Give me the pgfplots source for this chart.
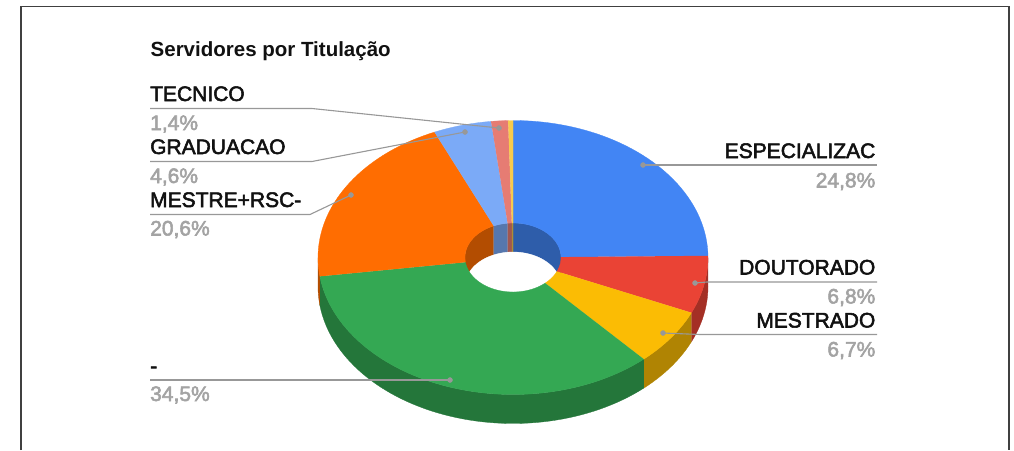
\documentclass[border=0pt]{standalone}
\usepackage{fontspec}
\setmainfont{Liberation Sans}
\newfontfamily\lblfont[FakeBold=2.5]{Liberation Sans}
\newfontfamily\ttlfont{Liberation Sans Bold}
\usepackage{pgfplots}
\pgfplotsset{compat=1.18}
\definecolor{cBlue}{HTML}{4285F4}\definecolor{cBlueD}{HTML}{2E5DAA}
\definecolor{cRed}{HTML}{EA4335}\definecolor{cRedD}{HTML}{A42F25}
\definecolor{cYel}{HTML}{FBBC04}\definecolor{cYelD}{HTML}{B08403}
\definecolor{cGrn}{HTML}{34A853}\definecolor{cGrnD}{HTML}{24763A}
\definecolor{cOrg}{HTML}{FF6D01}\definecolor{cOrgD}{HTML}{B34D01}
\definecolor{cLbl}{HTML}{7BAAF7}\definecolor{cLblD}{HTML}{5677AD}
\definecolor{cPnk}{HTML}{E67C73}\definecolor{cPnkD}{HTML}{A15750}
\definecolor{cLyl}{HTML}{F7CB4D}\definecolor{cLylD}{HTML}{AD8E36}
\definecolor{cLine}{HTML}{989898}
\definecolor{cPct}{HTML}{A3A3A3}
\definecolor{cTxt}{HTML}{111111}
% pie geometry in pixels
\def\cx{513}\def\cy{257.5}\def\rx{195}\def\ry{137}\def\hx{48}\def\hy{34.5}\def\dep{29}
\newcommand\appendarc[6]{%
  \pgfmathtruncatemacro\nn{max(2,ceil(abs(#2-#1)/2))}%
  \foreach \i in {0,...,\nn}{%
    \pgfmathsetmacro\tv{#1+(#2-#1)/\nn*\i}%
    \pgfmathsetmacro\px{#3+#5*sin(\tv)}%
    \pgfmathsetmacro\py{#4-#6*cos(\tv)}%
    \xdef\ptlist{\ptlist (\px,\py)}%
  }}
\newcommand\flushpoly[1]{%
  \edef\doit{\noexpand\addplot[fill=#1,draw=#1,line width=0.3pt] coordinates {\ptlist};}\doit}
% band between radii/offsets; angles given as percent of the pie
\newcommand\wedgetop[3]{%
  \pgfmathsetmacro\ta{#1*3.6}\pgfmathsetmacro\tb{#2*3.6}%
  \gdef\ptlist{}\appendarc{\ta}{\tb}{\cx}{\cy}{\rx}{\ry}\appendarc{\tb}{\ta}{\cx}{\cy}{\hx}{\hy}\flushpoly{#3}}
\newcommand\wallouter[3]{%
  \pgfmathsetmacro\ta{max(#1*3.6,90)}\pgfmathsetmacro\tb{min(#2*3.6,270)}\pgfmathsetmacro\cyb{\cy+\dep}%
  \gdef\ptlist{}\appendarc{\ta}{\tb}{\cx}{\cy}{\rx}{\ry}\appendarc{\tb}{\ta}{\cx}{\cyb}{\rx}{\ry}\flushpoly{#3}}
\newcommand\wallinner[3]{%
  \pgfmathsetmacro\ta{#1*3.6}\pgfmathsetmacro\tb{#2*3.6}\pgfmathsetmacro\cyb{\cy+\dep}%
  \gdef\ptlist{}\appendarc{\ta}{\tb}{\cx}{\cy}{\hx}{\hy}\appendarc{\tb}{\ta}{\cx}{\cyb}{\hx}{\hy}\flushpoly{#3}}
\newcommand\hl[2]{\node[anchor=base west,inner sep=0pt,text=cTxt,font=\lblfont\fontsize{21}{22}\selectfont] at (axis cs:150,#1) {#2};}
\newcommand\hp[2]{\node[anchor=base west,inner sep=0pt,text=cPct,font=\lblfont\fontsize{21}{22}\selectfont] at (axis cs:150,#1) {#2};}
\newcommand\rl[2]{\node[anchor=base east,inner sep=0pt,text=cTxt,font=\lblfont\fontsize{21}{22}\selectfont] at (axis cs:875.5,#1) {#2};}
\newcommand\rp[2]{\node[anchor=base east,inner sep=0pt,text=cPct,font=\lblfont\fontsize{21}{22}\selectfont] at (axis cs:875.5,#1) {#2};}
\begin{document}
\begin{tikzpicture}
\begin{axis}[
  at={(0,0)}, anchor=south west,
  width=1014pt, height=450pt, scale only axis,
  xmin=0, xmax=1014, ymin=0, ymax=450, y dir=reverse,
  hide axis, clip=false]
\addplot[fill=white,draw=none] coordinates {(0,0)(1014,0)(1014,450)(0,450)};
% frame
\addplot[color=black!75,line width=1.2pt] coordinates {(21,450)(21,6.5)(1009,6.5)(1009,450)};
% outer side wall (front half)
\wallouter{25}{31.6}{cRedD}
\wallouter{31.6}{38.3}{cYelD}
\wallouter{38.3}{72.8}{cGrnD}
\wallouter{72.8}{75}{cOrgD}
% far wall of the hole
\wallinner{0}{24.8}{cBlueD}
\wallinner{-25}{-6.6}{cOrgD}
\wallinner{-6.6}{-1.8}{cLblD}
\wallinner{-1.8}{-0.4}{cPnkD}
\wallinner{-0.4}{0}{cLylD}
\wallinner{24.8}{25}{cRedD}
% see-through part of the hole
\gdef\ptlist{}\pgfmathsetmacro\cyb{\cy+\dep}\appendarc{0}{360}{\cx}{\cyb}{\hx}{\hy}\flushpoly{white}
% top face: shares 24.8, 6.8, 6.7, 34.5, 20.6, 4.6, 1.4 (cumulative limits, as drawn)
\wedgetop{0}{24.8}{cBlue}
\wedgetop{24.8}{31.6}{cRed}
\wedgetop{31.6}{38.3}{cYel}
\wedgetop{38.3}{72.8}{cGrn}
\wedgetop{72.8}{93.4}{cOrg}
\wedgetop{93.4}{98.2}{cLbl}
\wedgetop{98.2}{99.6}{cPnk}
\wedgetop{99.6}{100}{cLyl}
% leader lines
\addplot[color=cLine,line width=1.1pt] coordinates {(150,108.5)(312,108.5)(499,128)};
\addplot[color=cLine,line width=1.1pt] coordinates {(150,161.5)(312,161.5)(465,132)};
\addplot[color=cLine,line width=1.1pt] coordinates {(150,214.5)(310,214.5)(351,195)};
\addplot[color=cLine,line width=1.1pt] coordinates {(150,380)(450,380)};
\addplot[color=cLine,line width=1.1pt] coordinates {(643,165)(877,165)};
\addplot[color=cLine,line width=1.1pt] coordinates {(695,283)(707,282)(877,282)};
\addplot[color=cLine,line width=1.1pt] coordinates {(663,333)(700,334.5)(877,334.5)};
\addplot[only marks,mark=*,mark size=2.5pt,color=cLine] coordinates {(499,128)(465,132)(351,195)(450,380)(643,165)(695,283)(663,333)};
% texts
\node[anchor=base west,inner sep=0pt,text=cTxt,font=\ttlfont\fontsize{20.5}{22}\selectfont] at (axis cs:150.5,56.5) {Servidores por Titulação};
\hl{101}{TECNICO}\hp{130}{1,4\%}
\hl{154}{GRADUACAO}\hp{183}{4,6\%}
\hl{207}{MESTRE+RSC-}\hp{235.5}{20,6\%}
\hl{373}{-}\hp{401}{34,5\%}
\rl{158}{ESPECIALIZAC}\rp{187.5}{24,8\%}
\rl{274.5}{DOUTORADO}\rp{303.5}{6,8\%}
\rl{327.5}{MESTRADO}\rp{356.5}{6,7\%}
\end{axis}
\end{tikzpicture}
\end{document}
